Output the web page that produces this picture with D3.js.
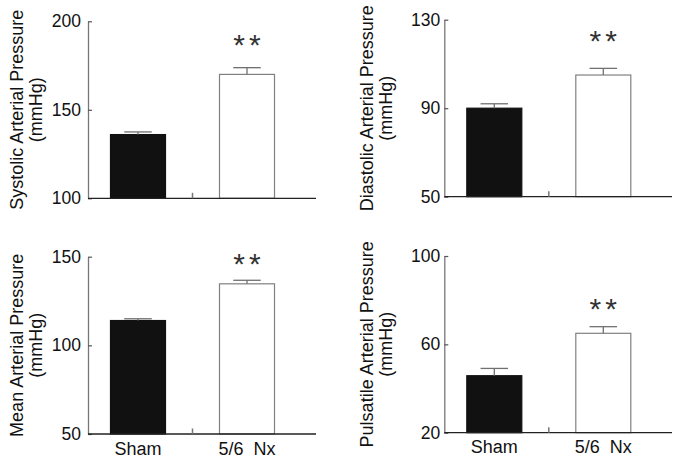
<!DOCTYPE html>
<html>
<head>
<meta charset="utf-8">
<script src="https://cdn.jsdelivr.net/npm/d3@7"></script>
<style>
  html, body { margin: 0; padding: 0; background: #fff; }
  svg { display: block; font-family: "Liberation Sans", Arial, sans-serif; }
</style>
</head>
<body>
<svg id="chart" width="676" height="460"></svg>
<script>
// ---- data ----
const categories = ["Sham", "5/6 Nx"];
const titles = ["Systolic Arterial Pressure", "Diastolic Arterial Pressure", "Mean Arterial Pressure", "Pulsatile Arterial Pressure"];
const unitLabel = "(mmHg)";
const sigLabel = "**";

const sbpMeans = [136, 170];
const sbpErrors = [1.5, 3.8];
const dbpMeans = [90, 105];
const dbpErrors = [2, 3];
const mapMeans = [114, 134.7];
const mapErrors = [1, 2];
const ppMeans = [45.8, 65];
const ppErrors = [3.3, 3];

const sbpTicks = [100, 150, 200];
const dbpTicks = [50, 90, 130];
const mapTicks = [50, 100, 150];
const ppTicks = [20, 60, 100];

// ---- layout ----
const panels = [
  { title: titles[0], means: sbpMeans, errs: sbpErrors, ticks: sbpTicks, ax: 88, top: 21.3, bottom: 198.3, end: 316, pad: 7, t1: 23, t2: 42, starGap: 27, xLabels: false },
  { title: titles[1], means: dbpMeans, errs: dbpErrors, ticks: dbpTicks, ax: 444.3, top: 19.7, bottom: 196.7, end: 672, pad: 4, t1: 373, t2: 392, starGap: 32, xLabels: false },
  { title: titles[2], means: mapMeans, errs: mapErrors, ticks: mapTicks, ax: 88, top: 256.7, bottom: 434, end: 316, pad: 7, t1: 23, t2: 42, starGap: 21, xLabels: true },
  { title: titles[3], means: ppMeans, errs: ppErrors, ticks: ppTicks, ax: 444.3, top: 256, bottom: 432.7, end: 672, pad: 4, t1: 373, t2: 392, starGap: 22, xLabels: true }
];

const svg = d3.select("#chart");

panels.forEach(p => {
  const g = svg.append("g");
  const tks = p.ticks;
  const y = d3.scaleLinear().domain([tks[0], tks[tks.length - 1]]).range([p.bottom, p.top]);
  const x = d3.scaleBand().domain(categories)
    .range([p.ax + 22.5, p.ax + 22.5 + 164])
    .paddingInner(54 / 109).paddingOuter(0);

  // y axis
  const yAxis = d3.axisLeft(y).tickValues(tks).tickSizeInner(-4).tickSizeOuter(0).tickPadding(p.pad);
  const ya = g.append("g").attr("transform", `translate(${p.ax},0)`).call(yAxis);
  ya.select(".domain").attr("stroke", "#777").attr("stroke-width", 1.3);
  ya.selectAll(".tick line").attr("stroke", "#555").attr("stroke-width", 1.2);
  ya.selectAll(".tick text").attr("font-size", 17.5).attr("fill", "#111")
    .attr("font-family", "Liberation Sans, Arial, sans-serif");

  // bars
  const data = categories.map((c, i) => ({ c, m: p.means[i], e: p.errs[i], i }));
  g.selectAll("rect.bar").data(data).enter().append("rect")
    .attr("class", "bar")
    .attr("x", d => x(d.c))
    .attr("width", x.bandwidth())
    .attr("y", d => y(d.m))
    .attr("height", d => y(tks[0]) - y(d.m))
    .attr("fill", d => d.i === 0 ? "#111" : "#fff")
    .attr("stroke", d => d.i === 0 ? "#111" : "#808080")
    .attr("stroke-width", 1.2);

  // error bars
  const capW = x.bandwidth() / 2;
  data.forEach(d => {
    const cx = x(d.c) + x.bandwidth() / 2;
    g.append("line").attr("x1", cx).attr("x2", cx).attr("y1", y(d.m)).attr("y2", y(d.m + d.e))
      .attr("stroke", "#707070").attr("stroke-width", 1.3);
    g.append("line").attr("x1", cx - capW / 2).attr("x2", cx + capW / 2).attr("y1", y(d.m + d.e)).attr("y2", y(d.m + d.e))
      .attr("stroke", "#707070").attr("stroke-width", 1.3);
  });

  // x axis line
  g.append("line").attr("x1", p.ax).attr("x2", p.end).attr("y1", y(tks[0])).attr("y2", y(tks[0]))
    .attr("stroke", "#222").attr("stroke-width", 1.3);
  // middle tick between categories
  const midX = x(categories[1]) - x.step() * x.paddingInner() / 2;
  g.append("line").attr("x1", midX).attr("x2", midX).attr("y1", y(tks[0])).attr("y2", y(tks[0]) - 5.5)
    .attr("stroke", "#777").attr("stroke-width", 1.5);

  // x labels
  if (p.xLabels) {
    const xAxis = d3.axisBottom(x).tickSize(0).tickPadding(8);
    const xa = g.append("g").attr("transform", `translate(0,${y(tks[0])})`).call(xAxis);
    xa.select(".domain").remove();
    xa.selectAll(".tick text").attr("font-size", 18).attr("fill", "#111")
      .attr("font-family", "Liberation Sans, Arial, sans-serif")
      .style("white-space", "pre")
      .text(d => d === "5/6 Nx" ? "5/6\u00a0 Nx" : d);
  }

  // significance stars
  const nx = data[1];
  g.append("text")
    .attr("x", x(nx.c) + x.bandwidth() / 2 + 2)
    .attr("y", y(nx.m + nx.e) - p.starGap)
    .attr("dy", "0.48em")
    .attr("text-anchor", "middle")
    .attr("font-size", 30)
    .attr("letter-spacing", 4)
    .attr("fill", "#333")
    .text(sigLabel);

  // y titles
  const cy = (p.top + p.bottom) / 2;
  g.append("text").attr("transform", `translate(${p.t1},${cy}) rotate(-90)`)
    .attr("text-anchor", "middle").attr("font-size", 18).attr("fill", "#111").text(p.title);
  g.append("text").attr("transform", `translate(${p.t2},${cy}) rotate(-90)`)
    .attr("text-anchor", "middle").attr("font-size", 18).attr("fill", "#111").text(unitLabel);
});
</script>
</body>
</html>
